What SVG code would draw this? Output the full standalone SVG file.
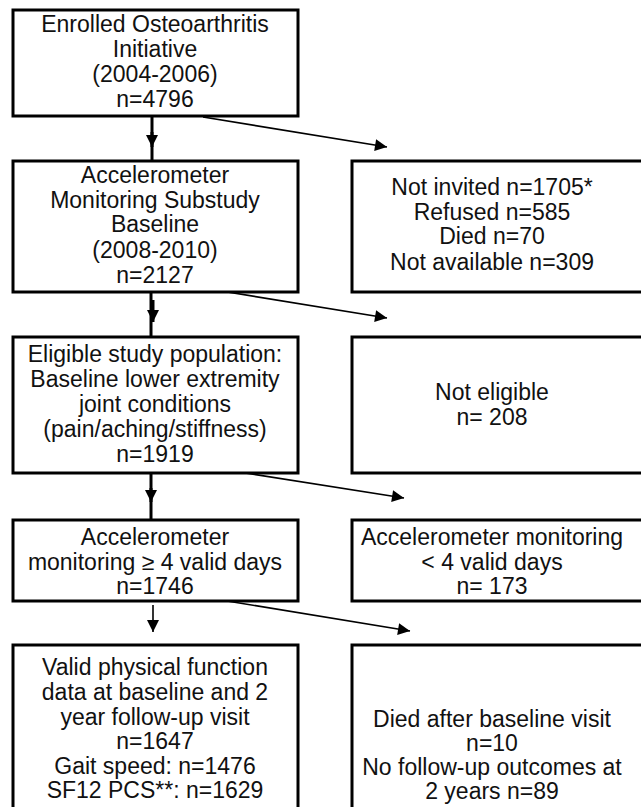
<svg xmlns="http://www.w3.org/2000/svg" width="641" height="807" viewBox="0 0 641 807">
<style>
.box{fill:#fff;stroke:#000;stroke-width:3}
.t{font-family:"Liberation Sans",Arial,sans-serif;font-size:23px;fill:#111;text-anchor:middle}
.v{stroke:#000;stroke-width:3;fill:none}
.d{stroke:#000;stroke-width:1.6;fill:none}
</style>
<defs>
<marker id="ah" viewBox="0 0 10 10" refX="10" refY="5" markerWidth="14" markerHeight="12" markerUnits="userSpaceOnUse" orient="auto">
<path d="M0,0 L10,5 L0,10 Z" fill="#000"/>
</marker>
</defs>
<rect width="641" height="807" fill="#fff"/>
<g id="connectors">
<line class="v" x1="152" y1="116" x2="152" y2="161"/>
<line class="v" x1="152" y1="132" x2="152" y2="147" marker-end="url(#ah)"/>
<line class="d" x1="203" y1="117" x2="387" y2="147" marker-end="url(#ah)"/>
<line class="v" x1="151" y1="292" x2="151" y2="337"/>
<line class="v" x1="153" y1="300" x2="153" y2="322" stroke-width="1.5" marker-end="url(#ah)"/>
<line class="d" x1="203" y1="288" x2="387" y2="318" marker-end="url(#ah)"/>
<line class="v" x1="151" y1="473" x2="151" y2="520"/>
<line class="v" x1="151" y1="488" x2="151" y2="502" marker-end="url(#ah)"/>
<line class="d" x1="220" y1="469" x2="404" y2="498" marker-end="url(#ah)"/>
<line class="d" x1="153" y1="605" x2="153" y2="632" marker-end="url(#ah)"/>
<line class="d" x1="227" y1="601" x2="410" y2="631" marker-end="url(#ah)"/>
</g>
<g id="n1">
<rect class="box" x="13" y="10" width="285" height="106"/>
<text class="t" x="155" y="32">Enrolled Osteoarthritis</text>
<text class="t" x="155" y="57">Initiative</text>
<text class="t" x="155" y="82">(2004-2006)</text>
<text class="t" x="155" y="107">n=4796</text>
</g>
<g id="n2">
<rect class="box" x="13" y="161" width="285" height="131"/>
<text class="t" x="155" y="183">Accelerometer</text>
<text class="t" x="155" y="208">Monitoring Substudy</text>
<text class="t" x="155" y="232">Baseline</text>
<text class="t" x="155" y="258">(2008-2010)</text>
<text class="t" x="155" y="283">n=2127</text>
</g>
<g id="r1">
<rect class="box" x="352" y="161" width="300" height="131"/>
<text class="t" x="492" y="195">Not invited n=1705*</text>
<text class="t" x="492" y="220">Refused n=585</text>
<text class="t" x="492" y="244">Died n=70</text>
<text class="t" x="492" y="270">Not available n=309</text>
</g>
<g id="n3">
<rect class="box" x="13" y="337" width="285" height="136"/>
<text class="t" x="155" y="362">Eligible study population:</text>
<text class="t" x="155" y="387">Baseline lower extremity</text>
<text class="t" x="155" y="412">joint conditions</text>
<text class="t" x="155" y="437">(pain/aching/stiffness)</text>
<text class="t" x="155" y="462">n=1919</text>
</g>
<g id="r2">
<rect class="box" x="352" y="337" width="300" height="136"/>
<text class="t" x="492" y="400">Not eligible</text>
<text class="t" x="492" y="425">n= 208</text>
</g>
<g id="n4">
<rect class="box" x="13" y="520" width="285" height="81"/>
<text class="t" x="155" y="545">Accelerometer</text>
<text class="t" x="155" y="570">monitoring ≥ 4 valid days</text>
<text class="t" x="155" y="594">n=1746</text>
</g>
<g id="r3">
<rect class="box" x="352" y="520" width="300" height="81"/>
<text class="t" x="492" y="545">Accelerometer monitoring</text>
<text class="t" x="492" y="570">&lt; 4 valid days</text>
<text class="t" x="492" y="594">n= 173</text>
</g>
<g id="n5">
<rect class="box" x="13" y="645" width="285" height="180"/>
<text class="t" x="155" y="675">Valid physical function</text>
<text class="t" x="155" y="700">data at baseline and 2</text>
<text class="t" x="155" y="725">year follow-up visit</text>
<text class="t" x="155" y="749">n=1647</text>
<text class="t" x="155" y="774">Gait speed: n=1476</text>
<text class="t" x="155" y="798">SF12 PCS**: n=1629</text>
</g>
<g id="r4">
<rect class="box" x="352" y="645" width="300" height="180"/>
<text class="t" x="492" y="727">Died after baseline visit</text>
<text class="t" x="492" y="751">n=10</text>
<text class="t" x="492" y="775">No follow-up outcomes at</text>
<text class="t" x="492" y="799">2 years n=89</text>
</g>
</svg>
